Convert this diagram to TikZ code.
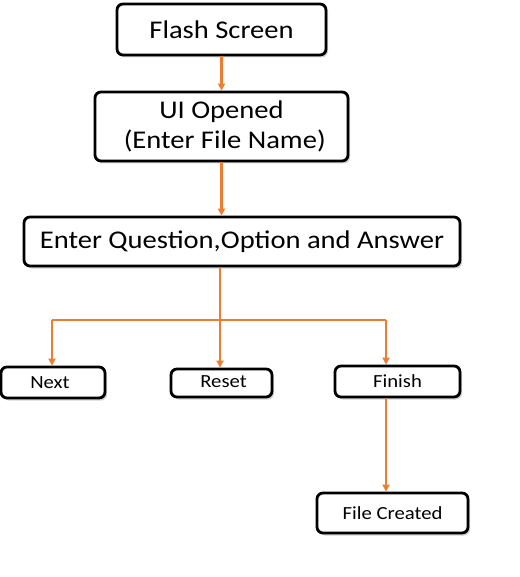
\documentclass[tikz,border=0pt]{standalone}
\usepackage{fontspec}
\setmainfont{Carlito}[FakeStretch=1.12]
\usetikzlibrary{shadows,arrows.meta}
\definecolor{arrowor}{HTML}{ED7D31}
\begin{document}
\begin{tikzpicture}[x=1pt,y=-1pt,
  box/.style={draw=black, line width=2.8pt, rounded corners=6pt, fill=white,
    drop shadow={opacity=0.35, shadow xshift=2pt, shadow yshift=-2.5pt},
    inner sep=0pt, align=center},
  big/.style={font=\fontsize{25.5}{30}\selectfont},
  small/.style={font=\fontsize{18.5}{20}\selectfont},
  conn/.style={draw=arrowor, line width=2.4pt, -{Triangle[length=7pt,width=7pt]}},
  seg/.style={draw=arrowor, line width=2.4pt}]
\useasboundingbox (0,0) rectangle (519,577);
\node[box,big,minimum width=209pt,minimum height=51pt] (flash) at (221.5,29.5) {Flash Screen};
\node[box,big,minimum width=253pt,minimum height=69pt] (ui) at (221.5,126.5) {UI Opened\\ \ (Enter File Name)};
\node[box,big,minimum width=436pt,minimum height=49pt] (q) at (242,241.5) {Enter Question,Option and Answer};
\node[box,small,minimum width=104pt,minimum height=31pt] (next) at (53,382.5) {\hspace*{-6pt}Next};
\node[box,small,minimum width=101pt,minimum height=28pt] (reset) at (221.5,383) {\raisebox{2pt}{\hspace*{4pt}Reset}};
\node[box,small,minimum width=125pt,minimum height=31pt] (finish) at (397.5,381.5) {Finish};
\node[box,small,minimum width=151pt,minimum height=40pt] (file) at (392.5,513) {File Created};
\coordinate (j) at (220,320);
\coordinate (jl) at (52,320);
\coordinate (jr) at (386,320);
\draw[conn] (flash.south) -- (ui.north);
\draw[conn] (ui.south) -- (ui.south |- q.north);
\draw[seg] (q.south -| j) -- (j);
\draw[seg] (jl) -- (jr);
\draw[conn] (jl) -- (jl |- next.north);
\draw[conn] (j) -- (j |- reset.north);
\draw[conn] (jr) -- (jr |- finish.north);
\draw[conn] (jr |- finish.south) -- (jr |- file.north);
\end{tikzpicture}
\end{document}
